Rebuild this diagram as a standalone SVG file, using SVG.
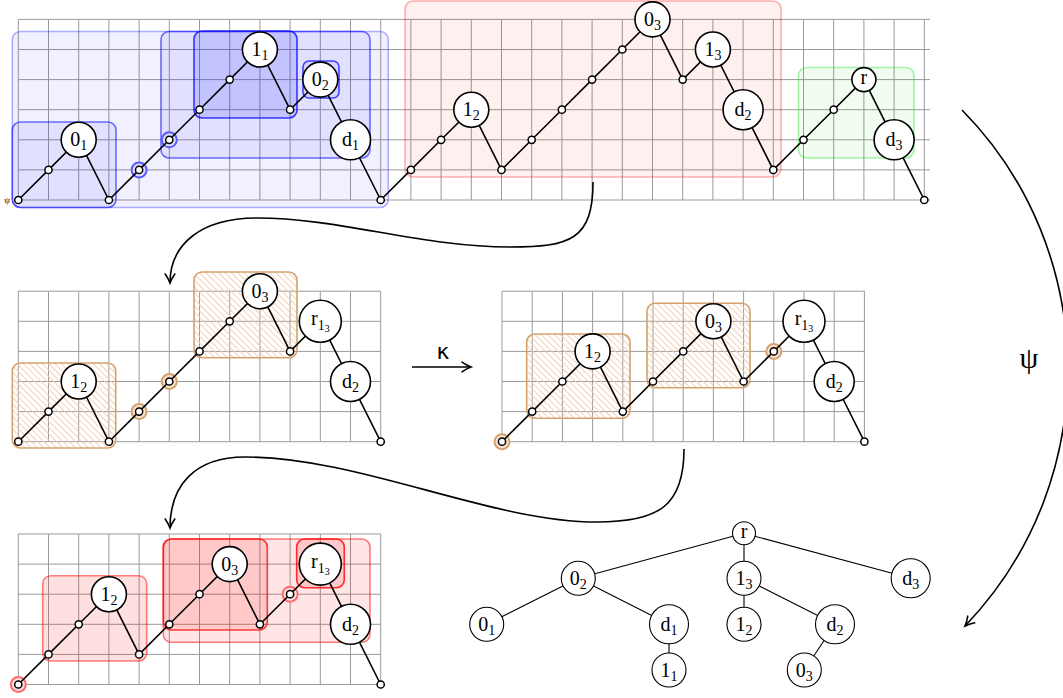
<svg xmlns="http://www.w3.org/2000/svg" width="1063" height="698" viewBox="0 0 1063 698">
<defs>
<style>
.g{fill:none;stroke:#9a9a9a;stroke-width:1}
.p{fill:none;stroke:#000;stroke-width:1.6;stroke-linejoin:round}
.s{fill:#fff;stroke:#000;stroke-width:1.5}
.n{fill:#fff;stroke:#000;stroke-width:1.6}
.tn{fill:#fff;stroke:#000;stroke-width:1.1}
.e{fill:none;stroke:#000;stroke-width:1.1}
.l{font-family:"Liberation Serif",serif;font-size:20px;text-anchor:middle;fill:#000}
.sb{font-size:14px}
.ss{font-size:10px}
.bb{fill:#0000ff;stroke:#0000ff;stroke-width:1.6}
.rb{fill:#ff0000;stroke:#ff0000;stroke-width:1.6}
.gb{fill:#00e000;stroke:#00e000;stroke-width:1.6}
.ob{fill:url(#hatch);stroke:#d5a26d;stroke-width:1.6}
.hb{fill:#dcdcff;stroke:#5a5aff;stroke-width:2}
.ho{fill:#f7e3cd;stroke:#d5a26d;stroke-width:2}
.hr{fill:#ffdcdc;stroke:#ff6b6b;stroke-width:2}
.a{fill:none;stroke:#000;stroke-width:1.6}
</style>
<pattern id="hatch" width="4.5" height="4.5" patternUnits="userSpaceOnUse" patternTransform="rotate(45)">
<line x1="0" y1="2.25" x2="4.5" y2="2.25" stroke="#f3cfb2" stroke-width="1"/>
</pattern>
<marker id="ah" markerUnits="userSpaceOnUse" markerWidth="14" markerHeight="14" refX="11" refY="7" orient="auto" overflow="visible">
<path d="M2,2.2 Q7,5.6 11,7 Q7,8.4 2,11.8" fill="none" stroke="#000" stroke-width="1.6" stroke-linecap="round"/>
</marker>
<path id="g12" class="g" d="M0 0V150.5M30.2 0V150.5M60.4 0V150.5M90.6 0V150.5M120.8 0V150.5M151 0V150.5M181.2 0V150.5M211.4 0V150.5M241.6 0V150.5M271.8 0V150.5M302 0V150.5M332.2 0V150.5M362.4 0V150.5M0 0H362.4M0 30.1H362.4M0 60.2H362.4M0 90.3H362.4M0 120.4H362.4M0 150.5H362.4"/>
</defs>
<rect width="1063" height="698" fill="#fff"/>

<!-- ===== Top panel ===== -->
<g id="top-panel">
<path class="g" d="M18.3 19.4V200M48.5 19.4V200M78.7 19.4V200M108.9 19.4V200M139.1 19.4V200M169.3 19.4V200M199.5 19.4V200M229.7 19.4V200M259.9 19.4V200M290.1 19.4V200M320.3 19.4V200M350.5 19.4V200M380.7 19.4V200M410.9 19.4V200M441.1 19.4V200M471.3 19.4V200M501.5 19.4V200M531.7 19.4V200M561.9 19.4V200M592.1 19.4V200M622.3 19.4V200M652.5 19.4V200M682.7 19.4V200M712.9 19.4V200M743.1 19.4V200M773.3 19.4V200M803.5 19.4V200M833.7 19.4V200M863.9 19.4V200M894.1 19.4V200M924.3 19.4V200M18.3 19.4H930M18.3 49.5H930M18.3 79.6H930M18.3 109.7H930M18.3 139.8H930M18.3 169.9H930M18.3 200H930"/>
<g id="top-boxes">
<rect class="bb" x="12.3" y="31.5" width="376" height="176" rx="8" fill-opacity="0.06" stroke-opacity="0.3"/>
<rect class="bb" x="12.3" y="122" width="103.7" height="85.5" rx="8" fill-opacity="0.06" stroke-opacity="0.55"/>
<rect class="bb" x="161" y="31.5" width="209" height="126.5" rx="8" fill-opacity="0.06" stroke-opacity="0.55"/>
<rect class="bb" x="194" y="31" width="103" height="87" rx="8" fill-opacity="0.13" stroke-opacity="0.75"/>
<rect class="bb" x="303" y="61" width="36" height="37" rx="6" fill-opacity="0.06" stroke-opacity="0.7"/>
<rect class="rb" x="405" y="1" width="376" height="176" rx="8" fill-opacity="0.06" stroke-opacity="0.3"/>
<rect class="gb" x="798.5" y="67.5" width="115.5" height="90.5" rx="8" fill-opacity="0.06" stroke-opacity="0.35"/>
<circle class="hb" cx="139.1" cy="169.9" r="7.5"/>
<circle class="hb" cx="169.3" cy="139.8" r="7.5"/>
</g>
<path class="p" d="M18.3 200L48.5 169.9L78.7 139.8L108.9 200L139.1 169.9L169.3 139.8L199.5 109.7L229.7 79.6L259.9 49.5L290.1 109.7L320.3 79.6L350.5 139.8L380.7 200L410.9 169.9L441.1 139.8L471.3 109.7L501.5 169.9L531.7 139.8L561.9 109.7L592.1 79.6L622.3 49.5L652.5 19.4L682.7 79.6L712.9 49.5L743.1 109.7L773.3 169.9L803.5 139.8L833.7 109.7L863.9 79.6L894.1 139.8L924.3 200"/>
<g id="top-vertices">
<circle class="s" cx="18.3" cy="200" r="3.6"/><circle class="s" cx="48.5" cy="169.9" r="3.6"/><circle class="s" cx="108.9" cy="200" r="3.6"/><circle class="s" cx="139.1" cy="169.9" r="3.6"/><circle class="s" cx="169.3" cy="139.8" r="3.6"/><circle class="s" cx="199.5" cy="109.7" r="3.6"/><circle class="s" cx="229.7" cy="79.6" r="3.6"/><circle class="s" cx="290.1" cy="109.7" r="3.6"/><circle class="s" cx="380.7" cy="200" r="3.6"/><circle class="s" cx="410.9" cy="169.9" r="3.6"/><circle class="s" cx="441.1" cy="139.8" r="3.6"/><circle class="s" cx="501.5" cy="169.9" r="3.6"/><circle class="s" cx="531.7" cy="139.8" r="3.6"/><circle class="s" cx="561.9" cy="109.7" r="3.6"/><circle class="s" cx="592.1" cy="79.6" r="3.6"/><circle class="s" cx="622.3" cy="49.5" r="3.6"/><circle class="s" cx="682.7" cy="79.6" r="3.6"/><circle class="s" cx="773.3" cy="169.9" r="3.6"/><circle class="s" cx="803.5" cy="139.8" r="3.6"/><circle class="s" cx="833.7" cy="109.7" r="3.6"/><circle class="s" cx="924.3" cy="200" r="3.6"/>
</g>
<text x="7" y="203" font-family="Liberation Serif,serif" font-size="9" text-anchor="middle">ψ</text>
<g id="t-0_1"><circle class="n" cx="78.7" cy="139.8" r="17.5"/><text class="l" x="78.7" y="146.3">0<tspan class="sb" dy="4">1</tspan></text></g>
<g id="t-1_1"><circle class="n" cx="259.9" cy="49.5" r="17.5"/><text class="l" x="259.9" y="56">1<tspan class="sb" dy="4">1</tspan></text></g>
<g id="t-0_2"><circle class="n" cx="320.3" cy="79.6" r="17.5"/><text class="l" x="320.3" y="86.1">0<tspan class="sb" dy="4">2</tspan></text></g>
<g id="t-d_1"><circle class="n" cx="350.5" cy="139.8" r="20"/><text class="l" x="350.5" y="146.3">d<tspan class="sb" dy="4">1</tspan></text></g>
<g id="t-1_2"><circle class="n" cx="471.3" cy="109.7" r="17.5"/><text class="l" x="471.3" y="116.2">1<tspan class="sb" dy="4">2</tspan></text></g>
<g id="t-0_3"><circle class="n" cx="652.5" cy="19.4" r="17.5"/><text class="l" x="652.5" y="25.9">0<tspan class="sb" dy="4">3</tspan></text></g>
<g id="t-1_3"><circle class="n" cx="712.9" cy="49.5" r="17.5"/><text class="l" x="712.9" y="56">1<tspan class="sb" dy="4">3</tspan></text></g>
<g id="t-d_2"><circle class="n" cx="743.1" cy="109.7" r="20"/><text class="l" x="743.1" y="116.2">d<tspan class="sb" dy="4">2</tspan></text></g>
<g id="t-r"><circle class="n" cx="863.9" cy="79.6" r="12"/><text class="l" x="863.9" y="84.3">r</text></g>
<g id="t-d_3"><circle class="n" cx="894.1" cy="139.8" r="20"/><text class="l" x="894.1" y="146.3">d<tspan class="sb" dy="4">3</tspan></text></g>
</g>

<!-- ===== Middle left panel ===== -->
<g id="mid-left-panel">
<use href="#g12" x="18.3" y="291.2"/>
<rect class="ob" x="12.3" y="363" width="103.4" height="85" rx="8"/>
<rect class="ob" x="194" y="272" width="103" height="85.7" rx="8"/>
<circle class="ho" cx="139.1" cy="411.6" r="7.5"/>
<circle class="ho" cx="169.3" cy="381.5" r="7.5"/>
<path class="p" d="M18.3 441.7L48.5 411.6L78.7 381.5L108.9 441.7L139.1 411.6L169.3 381.5L199.5 351.4L229.7 321.3L259.9 291.2L290.1 351.4L320.3 321.3L350.5 381.5L380.7 441.7"/>
<circle class="s" cx="18.3" cy="441.7" r="3.6"/><circle class="s" cx="48.5" cy="411.6" r="3.6"/><circle class="s" cx="108.9" cy="441.7" r="3.6"/><circle class="s" cx="139.1" cy="411.6" r="3.6"/><circle class="s" cx="169.3" cy="381.5" r="3.6"/><circle class="s" cx="199.5" cy="351.4" r="3.6"/><circle class="s" cx="229.7" cy="321.3" r="3.6"/><circle class="s" cx="290.1" cy="351.4" r="3.6"/><circle class="s" cx="380.7" cy="441.7" r="3.6"/>
<g id="ml-1_2"><circle class="n" cx="78.7" cy="381.5" r="17.5"/><text class="l" x="78.7" y="388">1<tspan class="sb" dy="4">2</tspan></text></g>
<g id="ml-0_3"><circle class="n" cx="259.9" cy="291.2" r="17.5"/><text class="l" x="259.9" y="297.7">0<tspan class="sb" dy="4">3</tspan></text></g>
<g id="ml-r13"><circle class="n" cx="320.3" cy="321.3" r="21"/><text class="l" x="320.3" y="324.8">r<tspan class="sb" dy="5">1</tspan><tspan class="ss" dy="2.5">3</tspan></text></g>
<g id="ml-d_2"><circle class="n" cx="350.5" cy="381.5" r="20"/><text class="l" x="350.5" y="388">d<tspan class="sb" dy="4">2</tspan></text></g>
</g>

<!-- ===== Middle right panel ===== -->
<g id="mid-right-panel">
<use href="#g12" x="502" y="291.2"/>
<rect class="ob" x="526.7" y="334" width="103.3" height="84.3" rx="8"/>
<rect class="ob" x="647" y="303.3" width="103" height="84.4" rx="8"/>
<circle class="ho" cx="502" cy="441.7" r="7.5"/>
<circle class="ho" cx="773.8" cy="351.4" r="7.5"/>
<path class="p" d="M502 441.7L532.2 411.6L562.4 381.5L592.6 351.4L622.8 411.6L653 381.5L683.2 351.4L713.4 321.3L743.6 381.5L773.8 351.4L804 321.3L834.2 381.5L864.4 441.7"/>
<circle class="s" cx="502" cy="441.7" r="3.6"/><circle class="s" cx="532.2" cy="411.6" r="3.6"/><circle class="s" cx="562.4" cy="381.5" r="3.6"/><circle class="s" cx="622.8" cy="411.6" r="3.6"/><circle class="s" cx="653" cy="381.5" r="3.6"/><circle class="s" cx="683.2" cy="351.4" r="3.6"/><circle class="s" cx="743.6" cy="381.5" r="3.6"/><circle class="s" cx="773.8" cy="351.4" r="3.6"/><circle class="s" cx="864.4" cy="441.7" r="3.6"/>
<g id="mr-1_2"><circle class="n" cx="592.6" cy="351.4" r="17.5"/><text class="l" x="592.6" y="357.9">1<tspan class="sb" dy="4">2</tspan></text></g>
<g id="mr-0_3"><circle class="n" cx="713.4" cy="321.3" r="17.5"/><text class="l" x="713.4" y="327.8">0<tspan class="sb" dy="4">3</tspan></text></g>
<g id="mr-r13"><circle class="n" cx="804" cy="321.3" r="21"/><text class="l" x="804" y="324.8">r<tspan class="sb" dy="5">1</tspan><tspan class="ss" dy="2.5">3</tspan></text></g>
<g id="mr-d_2"><circle class="n" cx="834.2" cy="381.5" r="20"/><text class="l" x="834.2" y="388">d<tspan class="sb" dy="4">2</tspan></text></g>
</g>

<!-- ===== Bottom left panel ===== -->
<g id="bottom-left-panel">
<use href="#g12" x="18.3" y="534"/>
<rect class="rb" x="42.7" y="575.7" width="104" height="85.3" rx="8" fill-opacity="0.12" stroke-opacity="0.5"/>
<rect class="rb" x="163.3" y="539" width="206.7" height="103.3" rx="8" fill-opacity="0.1" stroke-opacity="0.5"/>
<rect class="rb" x="163.3" y="539" width="104" height="91" rx="8" fill-opacity="0.12" stroke-opacity="0.75"/>
<rect class="rb" x="296.7" y="539" width="47.6" height="48.7" rx="8" fill-opacity="0.12" stroke-opacity="0.8"/>
<circle class="hr" cx="18.3" cy="684.5" r="7.5"/>
<circle class="hr" cx="290.1" cy="594.2" r="7.5"/>
<path class="p" d="M18.3 684.5L48.5 654.4L78.7 624.3L108.9 594.2L139.1 654.4L169.3 624.3L199.5 594.2L229.7 564.1L259.9 624.3L290.1 594.2L320.3 564.1L350.5 624.3L380.7 684.5"/>
<circle class="s" cx="18.3" cy="684.5" r="3.6"/><circle class="s" cx="48.5" cy="654.4" r="3.6"/><circle class="s" cx="78.7" cy="624.3" r="3.6"/><circle class="s" cx="139.1" cy="654.4" r="3.6"/><circle class="s" cx="169.3" cy="624.3" r="3.6"/><circle class="s" cx="199.5" cy="594.2" r="3.6"/><circle class="s" cx="259.9" cy="624.3" r="3.6"/><circle class="s" cx="290.1" cy="594.2" r="3.6"/><circle class="s" cx="380.7" cy="684.5" r="3.6"/>
<g id="bl-1_2"><circle class="n" cx="108.9" cy="594.2" r="17.5"/><text class="l" x="108.9" y="600.7">1<tspan class="sb" dy="4">2</tspan></text></g>
<g id="bl-0_3"><circle class="n" cx="229.7" cy="564.1" r="17.5"/><text class="l" x="229.7" y="570.6">0<tspan class="sb" dy="4">3</tspan></text></g>
<g id="bl-r13"><circle class="n" cx="320.3" cy="564.1" r="21"/><text class="l" x="320.3" y="567.6">r<tspan class="sb" dy="5">1</tspan><tspan class="ss" dy="2.5">3</tspan></text></g>
<g id="bl-d_2"><circle class="n" cx="350.5" cy="624.3" r="20"/><text class="l" x="350.5" y="630.8">d<tspan class="sb" dy="4">2</tspan></text></g>
</g>

<!-- ===== Tree ===== -->
<g id="tree-edges">
<path class="e" d="M744 533.3L578.3 578.3M744 533.3V578.3M744 533.3L910.7 578.3M578.3 578.3L486.7 624.3M578.3 578.3L669 624.3M669 624.3V670M744 578.3V624.3M744 578.3L835 624.3M835 624.3L804.3 670"/>
</g>
<g id="tree-r"><circle class="tn" cx="744" cy="533.3" r="11.5"/><text class="l" x="744" y="537.8">r</text></g>
<g id="tree-0_2"><circle class="tn" cx="578.3" cy="578.3" r="17"/><text class="l" x="578.3" y="584.8">0<tspan class="sb" dy="4">2</tspan></text></g>
<g id="tree-1_3"><circle class="tn" cx="744" cy="578.3" r="17"/><text class="l" x="744" y="584.8">1<tspan class="sb" dy="4">3</tspan></text></g>
<g id="tree-d_3"><circle class="tn" cx="910.7" cy="578.3" r="19.5"/><text class="l" x="910.7" y="584.8">d<tspan class="sb" dy="4">3</tspan></text></g>
<g id="tree-0_1"><circle class="tn" cx="486.7" cy="624.3" r="17"/><text class="l" x="486.7" y="630.8">0<tspan class="sb" dy="4">1</tspan></text></g>
<g id="tree-d_1"><circle class="tn" cx="669" cy="624.3" r="19.5"/><text class="l" x="669" y="630.8">d<tspan class="sb" dy="4">1</tspan></text></g>
<g id="tree-1_2"><circle class="tn" cx="744" cy="624.3" r="17"/><text class="l" x="744" y="630.8">1<tspan class="sb" dy="4">2</tspan></text></g>
<g id="tree-d_2"><circle class="tn" cx="835" cy="624.3" r="19.5"/><text class="l" x="835" y="630.8">d<tspan class="sb" dy="4">2</tspan></text></g>
<g id="tree-1_1"><circle class="tn" cx="669" cy="670" r="17"/><text class="l" x="669" y="676.5">1<tspan class="sb" dy="4">1</tspan></text></g>
<g id="tree-0_3"><circle class="tn" cx="804.3" cy="670" r="17"/><text class="l" x="804.3" y="676.5">0<tspan class="sb" dy="4">3</tspan></text></g>

<!-- ===== Connectors ===== -->
<g id="connectors">
<path class="a" marker-end="url(#ah)" d="M593 182C593 240 570 247 510 247C420 247 340 218 257 218C200 218 170 245 170 283"/>
<path class="a" marker-end="url(#ah)" d="M684 449C684 505 660 522 597 522C490 522 360 457 245 457C195 457 170 485 170 528"/>
<path class="a" marker-end="url(#ah)" d="M412 367H471"/>
<text x="443" y="359" font-family="DejaVu Sans,sans-serif" font-size="22" text-anchor="middle">κ</text>
<path class="a" marker-end="url(#ah)" d="M962 110C1100 250 1105 480 965 626"/>
<text x="1029" y="368" font-family="Liberation Serif,serif" font-size="30" text-anchor="middle">ψ</text>
</g>
</svg>
